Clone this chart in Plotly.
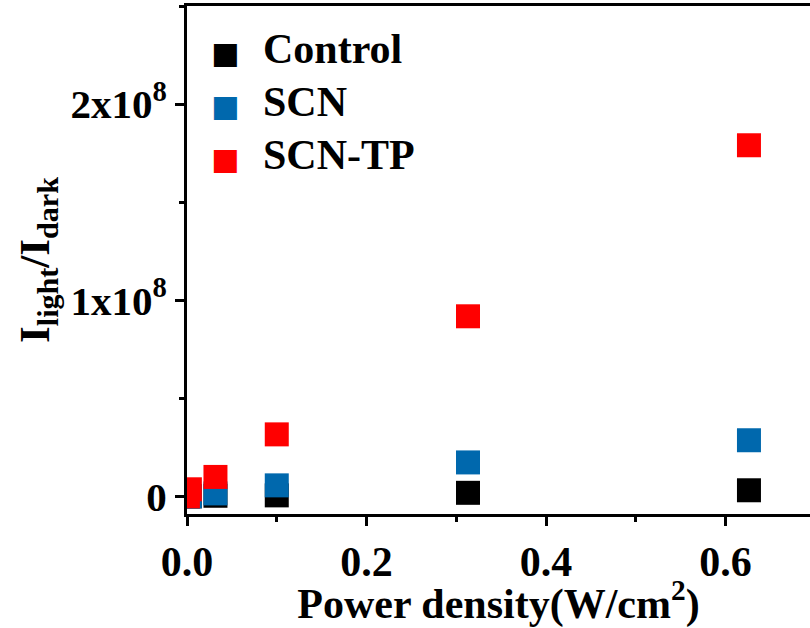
import plotly.graph_objects as go

power = [0.001, 0.0032, 0.0317, 0.1, 0.313, 0.626]
control = [0.0, 0.0, 0.003e8, 0.005e8, 0.018e8, 0.031e8]
scn = [0.0, 0.0, 0.015e8, 0.056e8, 0.173e8, 0.286e8]
scn_tp = [0.0, 0.036e8, 0.099e8, 0.316e8, 0.918e8, 1.79e8]

series_names = ["Control", "SCN", "SCN-TP"]
series_colors = ["#000000", "#0068AD", "#FF0000"]
series_values = [control, scn, scn_tp]

y_tickvals = [0, 1e8, 2e8]
y_ticktext = ["0", "1x10<sup>8</sup>", "2x10<sup>8</sup>"]
x_tickvals = [0.0, 0.2, 0.4, 0.6]
x_ticktext = ["0.0", "0.2", "0.4", "0.6"]

FONT = "Liberation Serif, Times New Roman, serif"

W, H = 810, 628
L, R, T, B = 187, 0, 6, 114

fig = go.Figure()
for name, color, vals in zip(series_names, series_colors, series_values):
    fig.add_trace(go.Scatter(
        x=power, y=vals, mode="markers", name=name,
        marker=dict(symbol="square", size=24, color=color, line=dict(width=0)),
        showlegend=False,
    ))

# manual legend (text annotations)
pw, ph = W - L - R, H - T - B
def px(xp):
    return (xp - L) / pw
def py(yp):
    return (H - B - yp) / ph

leg_y = [52.7, 106, 158.7]
annotations = []
for name, color, yy in zip(series_names, series_colors, leg_y):
    annotations.append(dict(
        x=px(225), y=py(yy), xref="paper", yref="paper",
        text="■", showarrow=False, xanchor="center", yanchor="middle",
        font=dict(family="DejaVu Sans", size=30, color=color),
    ))
    annotations.append(dict(
        x=px(261), y=py(yy - 4), xref="paper", yref="paper",
        text="<b>%s</b>" % name, showarrow=False, xanchor="left", yanchor="middle",
        font=dict(family=FONT, size=42, color="black"),
    ))

fig.update_layout(
    width=W, height=H,
    margin=dict(l=L, r=R, t=T, b=B, pad=0),
    paper_bgcolor="white", plot_bgcolor="white",
    font=dict(family=FONT, size=42, color="black"),
    annotations=annotations,
    showlegend=False,
)
fig.update_xaxes(
    range=[0, 0.694], showgrid=False, zeroline=False,
    showline=True, linewidth=3, linecolor="black", mirror=True,
    ticks="outside", ticklen=9, tickwidth=3, tickcolor="black",
    tickvals=x_tickvals, ticktext=["<b>%s</b>" % t for t in x_ticktext],
    tickfont=dict(family=FONT, size=42),
    minor=dict(dtick=0.1, tick0=0, ticks="outside", ticklen=5, tickwidth=3, tickcolor="black"),
    title=dict(text="<b>Power density(W/cm<sup>2</sup>)</b>", font=dict(family=FONT, size=42), standoff=8),
)
fig.update_yaxes(
    range=[-0.09e8, 2.5e8], showgrid=False, zeroline=False,
    showline=True, linewidth=3, linecolor="black", mirror=False,
    ticks="outside", ticklen=9, tickwidth=3, tickcolor="black",
    tickvals=y_tickvals, ticktext=["<b>%s</b>" % t for t in y_ticktext],
    tickfont=dict(family=FONT, size=41),
    minor=dict(dtick=0.5e8, tick0=0, ticks="outside", ticklen=5, tickwidth=3, tickcolor="black"),
    title=dict(text="<b>I<sub>light</sub>/I<sub>dark</sub></b>", font=dict(family=FONT, size=43), standoff=8),
)

fig.write_html("out.html")
